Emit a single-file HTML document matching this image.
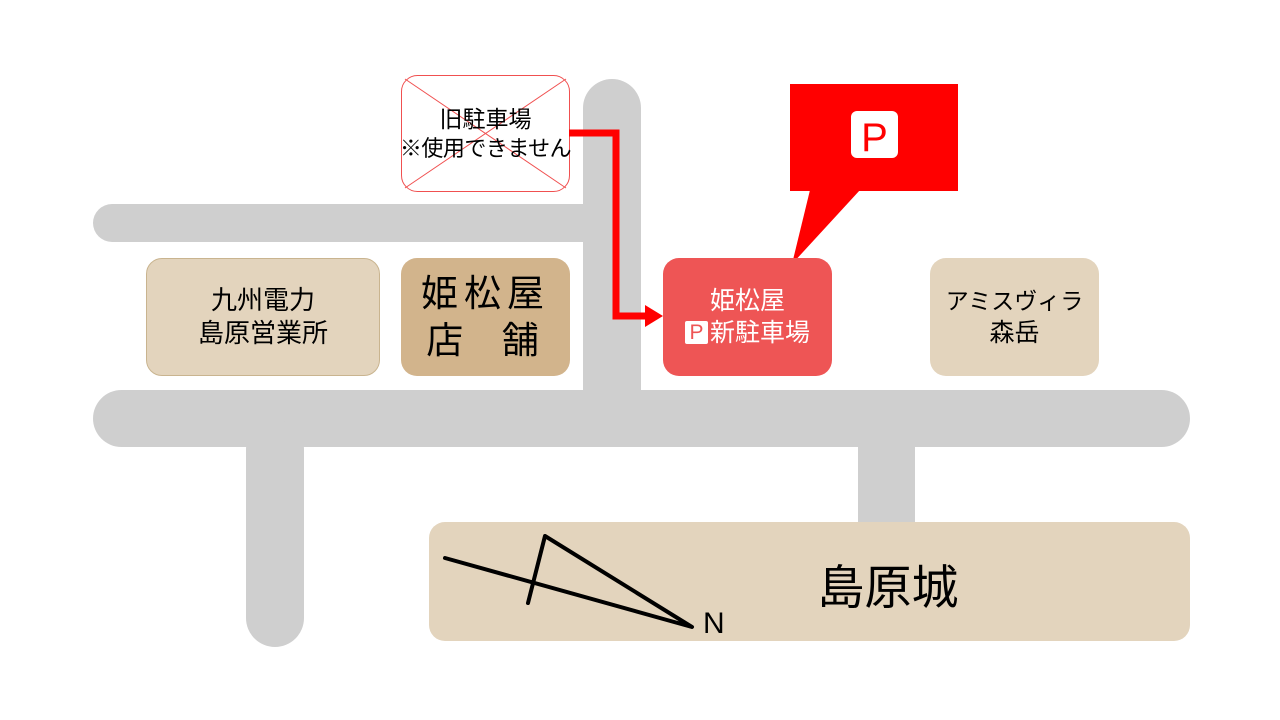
<!DOCTYPE html>
<html><head><meta charset="utf-8"><style>
body{margin:0;width:1280px;height:720px;background:#fff;position:relative;overflow:hidden;font-family:"Liberation Sans","Noto Sans CJK JP",sans-serif}
.a{position:absolute}
.box{position:absolute;display:flex;flex-direction:column;align-items:center;justify-content:center;text-align:center;border-radius:16px;box-sizing:border-box;white-space:nowrap}
</style></head><body>
<svg class="a" style="left:0;top:0" width="1280" height="720">
<g fill="#cfcfcf">
<rect x="93" y="204" width="520" height="38" rx="19"/>
<rect x="583" y="79" width="58" height="340" rx="29"/>
<rect x="93" y="390" width="1097" height="57" rx="28.5"/>
<rect x="246" y="420" width="58" height="227" rx="29"/>
<rect x="858" y="430" width="57" height="100"/>
</g>
<rect x="429" y="522" width="761" height="119" rx="16" fill="#e3d4bd"/>
<rect x="401.5" y="75.5" width="168" height="116" rx="16" fill="#fff" stroke="#f05050"/>
<line x1="405" y1="79" x2="566" y2="188" stroke="#f05050" stroke-width="1"/>
<line x1="566" y1="79" x2="405" y2="188" stroke="#f05050" stroke-width="1"/>
<polyline points="569,133 616,133 616,316 646,316" fill="none" stroke="#ff0000" stroke-width="7"/>
<polygon points="645,305 663,316 645,327" fill="#ff0000"/>
<rect x="790" y="84" width="168" height="107" fill="#ff0000"/>
<polygon points="810,190 860,190 792,264" fill="#ff0000"/>
<rect x="851" y="111" width="47" height="47" rx="6" fill="#fff"/>
<text x="874.5" y="151" text-anchor="middle" font-size="40" fill="#ff0000" font-family="Liberation Sans">P</text>
<g stroke="#000" stroke-width="4" fill="none" stroke-linecap="round" stroke-linejoin="round">
<polyline points="528,603 545,536 692,627 445,558"/>
</g>
<text x="703" y="633" font-size="30" font-family="Liberation Sans">N</text>
<text x="888" y="604" text-anchor="middle" font-size="47" font-family="Liberation Sans,Noto Sans CJK JP,sans-serif">島原城</text>
</svg>
<div class="box" style="left:401px;top:75px;width:169px;height:117px;font-size:22px;line-height:29px;color:#000;background:transparent"><span style="font-size:23px">旧駐車場</span><span style="letter-spacing:-0.5px">※使用できません</span></div>
<div class="box" style="left:146px;top:258px;width:234px;height:118px;background:#e3d4bd;border:1px solid #c9b48f;font-size:26px;line-height:33px">九州電力<br>島原営業所</div>
<div class="box" style="left:401px;top:258px;width:169px;height:118px;background:#d2b48c;font-size:37px;line-height:47px;letter-spacing:6px">姫松屋<br>店&nbsp;&nbsp;舗</div>
<div class="box" style="left:663px;top:258px;width:169px;height:118px;background:#ee5555;color:#fff;font-size:25px;line-height:32px"><div>姫松屋</div><div><span style="display:inline-block;background:#fff;color:#ee5555;width:23px;height:23px;line-height:24px;font-size:21px;border-radius:2px;vertical-align:2px;margin-right:2px">P</span>新駐車場</div></div>
<div class="box" style="left:930px;top:258px;width:169px;height:118px;background:#e3d4bd;font-size:23px;line-height:32px">アミスヴィラ<br><span style="font-size:25px">森岳</span></div>
</body></html>
